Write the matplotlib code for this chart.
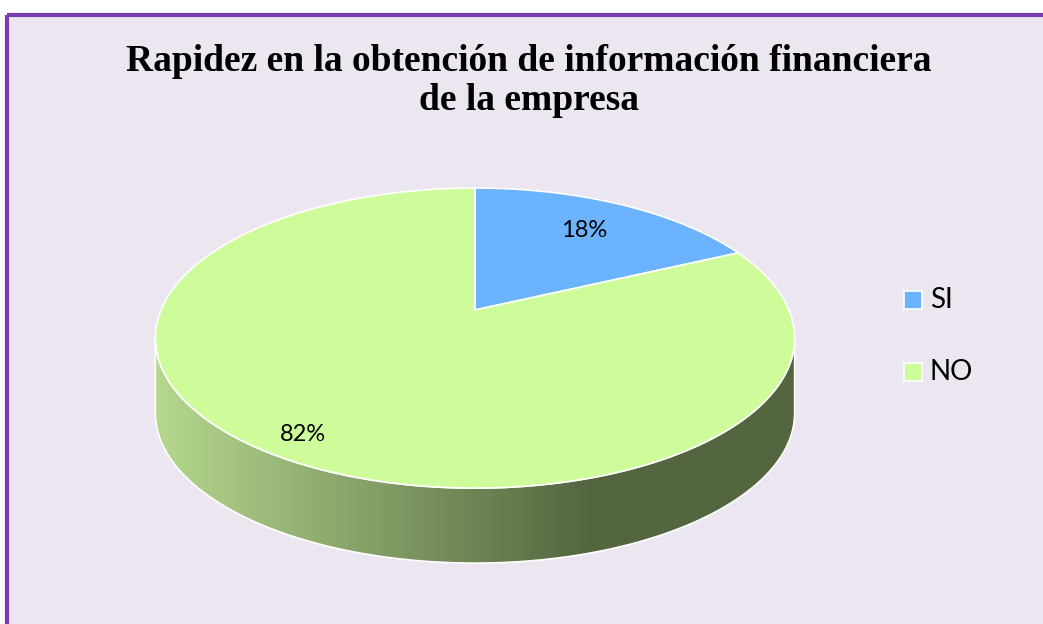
import numpy as np
import matplotlib
matplotlib.use('Agg')
import matplotlib.pyplot as plt
from matplotlib.patches import Polygon, Rectangle

# data
categories = ['SI', 'NO']
values = [18, 82]
colors = ['#6BB3FC', '#CFFC9A']
title = 'Rapidez en la obtención de información financiera\nde la empresa'

# pie geometry (pixel space, y grows downward)
cx, cy = 475, 310
A, B, K = 314, 144.8, 0.187
depth = 75
label_r = [0.72, 0.88]


def proj(theta, r=1.0):
    # theta measured clockwise from the top, in degrees
    t = np.radians(theta)
    u, v = r * np.sin(t), r * np.cos(t)
    d = 1 + K * v
    return cx + A * u / d, cy - B * v / d


fig = plt.figure(figsize=(10.43, 6.24), dpi=100)
fig.patch.set_facecolor('white')
ax = fig.add_axes([0, 0, 1, 1])
ax.set_xlim(0, 1043)
ax.set_ylim(624, 0)
ax.axis('off')

# chart area with purple frame (cut at right and bottom)
ax.add_patch(Rectangle((7, 15), 1100, 700, facecolor='#ECE6F1', edgecolor='none'))
ax.plot([7, 1043], [15, 15], color='#7A3DB0', lw=3, solid_capstyle='butt')
ax.plot([7, 7], [15, 624], color='#7A3DB0', lw=3, solid_capstyle='butt')

# side wall (front half)
th_r = np.degrees(np.arccos(-K))
th = np.linspace(th_r, 360 - th_r, 200)
tx, ty = proj(th)
side = np.concatenate([np.column_stack([tx, ty]),
                       np.column_stack([tx[::-1], ty[::-1] + depth])])
ax.add_patch(Polygon(side, closed=True, facecolor='none', edgecolor='white', lw=1.2, zorder=2))
xs = np.linspace(150, 800, 400)
f = np.clip((xs - 155) / (590 - 155), 0, 1)
light = np.array([182, 216, 142]) / 255
dark = np.array([83, 102, 64]) / 255
img = (light[None, :] * (1 - f[:, None]) + dark[None, :] * f[:, None])[None, :, :]
im = ax.imshow(img, extent=[150, 800, 580, 300], aspect='auto', zorder=1,
               interpolation='bilinear')
im.set_clip_path(Polygon(side, closed=True, transform=ax.transData))

# top face wedges
start = 0
total = sum(values)
for i, (cat, val) in enumerate(zip(categories, values)):
    span = 360 * val / total
    a = np.linspace(start, start + span, 200)
    px, py = proj(a)
    pts = np.column_stack([np.r_[cx, px], np.r_[cy, py]])
    ax.add_patch(Polygon(pts, closed=True, facecolor=colors[i], edgecolor='white',
                         lw=1.2, zorder=3))
    lx, ly = proj(start + span / 2, label_r[i])
    ax.text(lx, ly, f'{val}%', fontsize=17, family='Lato', ha='center', va='center',
            zorder=4)
    start += span

# title
ax.text(529, 81, title, fontsize=27, family='Liberation Serif', fontweight='bold',
        ha='center', va='center', linespacing=1.16)

# legend
for i, cat in enumerate(categories):
    y = [300, 372][i]
    ax.add_patch(Rectangle((904, y - 9), 18, 18, facecolor=colors[i],
                           edgecolor='white', lw=1.2, zorder=3))
    ax.text(930, y, cat, fontsize=20, family='Lato', ha='left', va='center')

fig.savefig('out.png', dpi=100, facecolor=fig.get_facecolor())
